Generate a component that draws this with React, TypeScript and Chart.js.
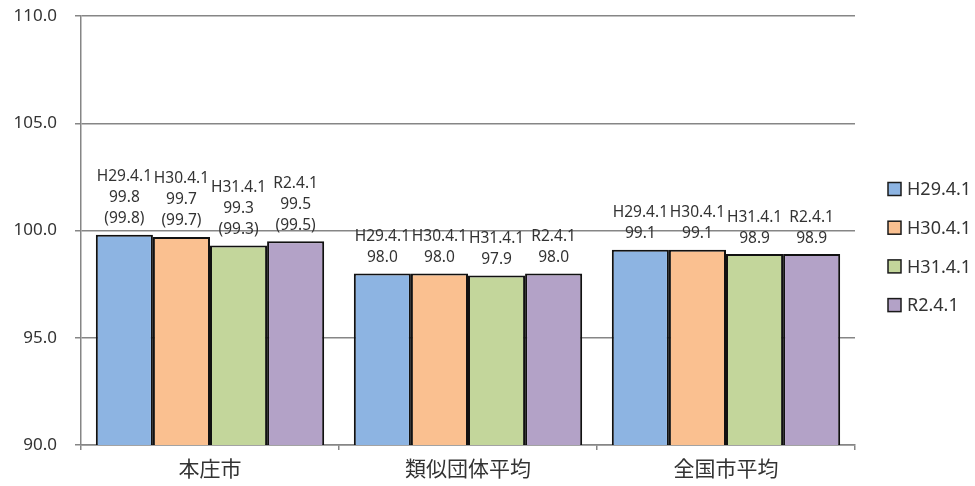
import React, { useEffect, useRef } from "react";
import { Chart, registerables } from "chart.js";

Chart.register(...registerables);

// Categories and series
const categories = ["本庄市", "類似団体平均", "全国市平均"];
const seriesLabels = ["H29.4.1", "H30.4.1", "H31.4.1", "R2.4.1"];
const seriesColors = ["#8DB4E2", "#FAC090", "#C3D69B", "#B3A2C7"];

// Values per survey date: [本庄市, 類似団体平均, 全国市平均]
const h29Values = [99.8, 98.0, 99.1];
const h30Values = [99.7, 98.0, 99.1];
const h31Values = [99.3, 97.9, 98.9];
const r2Values = [99.5, 98.0, 98.9];
const seriesValues = [h29Values, h30Values, h31Values, r2Values];

// Bracketed figures shown under 本庄市's values
const honjoBracketValues = [99.8, 99.7, 99.3, 99.5];

// Y axis range
const yMin = 90;
const yMax = 110;
const yStep = 5;

const TEXT_COLOR = "#333333";
const GRID_COLOR = "#868686";
const LATIN_FONT = "'Noto Sans', 'Open Sans', sans-serif";
const CJK_FONT = "'Noto Sans CJK JP', 'Noto Sans', sans-serif";

const valueLabelsPlugin = {
  id: "valueLabels",
  afterDatasetsDraw(chart: any) {
    const { ctx } = chart;
    ctx.save();
    ctx.font = `15.5px ${LATIN_FONT}`;
    ctx.fillStyle = TEXT_COLOR;
    ctx.textAlign = "center";
    ctx.textBaseline = "middle";
    const lineGap = 21;
    chart.data.datasets.forEach((ds: any, di: number) => {
      const meta = chart.getDatasetMeta(di);
      meta.data.forEach((bar: any, i: number) => {
        const v = ds.data[i] as number;
        const lines = [ds.label, v.toFixed(1)];
        if (i === 0) lines.push(`(${honjoBracketValues[di].toFixed(1)})`);
        const lastY = bar.y - 16;
        lines.forEach((t, li) => {
          const y = lastY - (lines.length - 1 - li) * lineGap;
          ctx.fillText(t, bar.x, y);
        });
      });
    });
    ctx.restore();
  },
};

const sideLegendPlugin = {
  id: "sideLegend",
  afterDraw(chart: any) {
    const { ctx } = chart;
    const boxX = 888;
    const firstY = 189;
    const step = 38.7;
    const box = 13;
    ctx.save();
    ctx.font = `18px ${LATIN_FONT}`;
    ctx.textAlign = "left";
    ctx.textBaseline = "middle";
    chart.data.datasets.forEach((ds: any, di: number) => {
      const cy = firstY + di * step;
      ctx.fillStyle = ds.backgroundColor;
      ctx.fillRect(boxX, cy - box / 2, box, box);
      ctx.strokeStyle = "#1a1a1a";
      ctx.lineWidth = 1.5;
      ctx.strokeRect(boxX, cy - box / 2, box, box);
      ctx.fillStyle = TEXT_COLOR;
      ctx.fillText(ds.label, boxX + box + 6, cy + 1);
    });
    ctx.restore();
  },
};

export default function App() {
  const canvasRef = useRef<HTMLCanvasElement | null>(null);

  useEffect(() => {
    if (!canvasRef.current) return;
    const chart = new Chart(canvasRef.current, {
      type: "bar",
      data: {
        labels: categories,
        datasets: seriesLabels.map((label, i) => ({
          label,
          data: seriesValues[i],
          backgroundColor: seriesColors[i],
          borderColor: "#111111",
          borderWidth: 2,
          borderSkipped: "bottom",
          categoryPercentage: 0.885,
          barPercentage: 1,
        })),
      },
      options: {
        animation: false,
        responsive: true,
        maintainAspectRatio: false,
        layout: { padding: { top: 16, right: 120, bottom: 0, left: 0 } },
        plugins: {
          legend: { display: false },
          tooltip: { enabled: false },
        },
        scales: {
          x: {
            offset: true,
            grid: {
              offset: true,
              drawOnChartArea: false,
              drawTicks: true,
              tickLength: 5,
              color: GRID_COLOR,
              lineWidth: 1.5,
            },
            border: { display: true, color: GRID_COLOR, width: 1.5 },
            ticks: {
              color: TEXT_COLOR,
              font: { family: CJK_FONT, size: 21 },
              padding: 5,
            },
            afterFit(scale: any) {
              scale.height = 41;
              scale.paddingLeft = 0;
              scale.paddingRight = 0;
            },
          },
          y: {
            min: yMin,
            max: yMax,
            ticks: {
              stepSize: yStep,
              color: TEXT_COLOR,
              font: { family: LATIN_FONT, size: 17 },
              padding: 18,
              callback: (v: any) => Number(v).toFixed(1),
            },
            grid: {
              color: GRID_COLOR,
              lineWidth: 1.5,
              tickLength: 6,
            },
            border: { display: true, color: GRID_COLOR, width: 1.5 },
            afterFit(scale: any) {
              scale.width = 81;
              scale.paddingTop = 0;
              scale.paddingBottom = 0;
            },
          },
        },
      },
      plugins: [valueLabelsPlugin, sideLegendPlugin],
    });
    return () => chart.destroy();
  }, []);

  return (
    <div
      style={{
        position: "absolute",
        left: 0,
        top: 0,
        width: 975,
        height: 486,
        background: "#ffffff",
      }}
    >
      <canvas ref={canvasRef} />
    </div>
  );
}
